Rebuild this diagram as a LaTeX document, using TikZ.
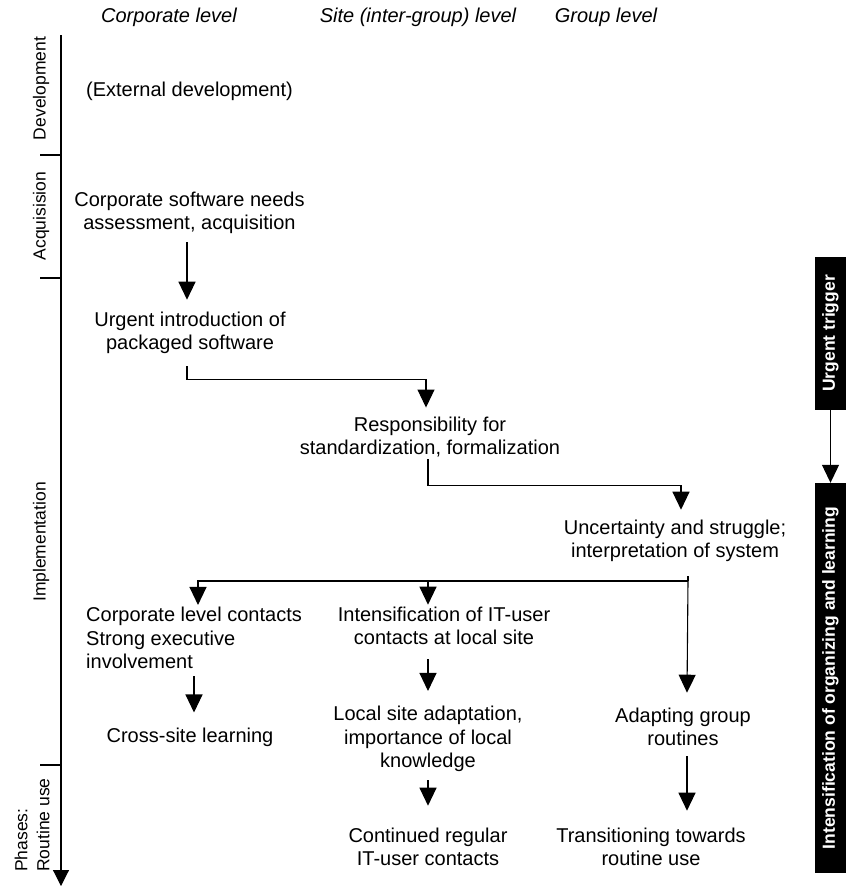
\documentclass[tikz,border=0pt]{standalone}
\usepackage{fontspec}
\setmainfont{Liberation Sans}
\usetikzlibrary{arrows.meta,calc}
\begin{document}
\begin{tikzpicture}[x=1pt,y=-1pt,
  txt/.style={inner sep=0pt,align=center,font=\fontsize{20}{23.5}\selectfont},
  hdr/.style={inner sep=0pt,font=\fontsize{20}{23.5}\selectfont\itshape},
  phase/.style={inner sep=0pt,rotate=90,align=left,font=\fontsize{17.5}{22}\selectfont},
  blackbox/.style={inner sep=0pt,rotate=90,fill=black,text=white,minimum height=31pt,font=\fontsize{17.5}{21}\selectfont\bfseries},
  ln/.style={line width=1.1pt},
  arr/.style={line width=1.1pt,-{Triangle[length=18pt,width=17pt]}}]
\useasboundingbox (0,0) rectangle (846,886);
% headers
\node[hdr] (h1) at (169,17) {Corporate level};
\node[hdr] (h2) at (418,17) {Site (inter-group) level};
\node[hdr] (h3) at (606,17) {Group level};
% phase axis
\coordinate (axtop) at (61,35);
\coordinate (axbot) at (61,886);
\draw[arr,-{Triangle[length=16pt,width=16pt]}] (axtop) -- (axbot);
\coordinate (t1) at (61,155);
\coordinate (t2) at (61,278);
\coordinate (t3) at (61,765);
\draw[ln] (t1) -- ++(-21,0);
\draw[ln] (t2) -- ++(-21,0);
\draw[ln] (t3) -- ++(-21,0);
\node[phase] (pdev) at (41,88.5) {Development};
\node[phase] (pacq) at (41,216) {Acquisision};
\node[phase] (pimp) at (41,542) {Implementation};
\node[phase,anchor=west] (prou) at (32,872) {Phases:\\Routine use};
% nodes
\node[txt] (ext) at (189.5,91) {(External development)};
\node[txt] (csn) at (189.5,213) {Corporate software needs\\assessment, acquisition};
\node[txt] (urg) at (190,333) {Urgent introduction of\\packaged software};
\node[txt] (resp) at (430,437) {Responsibility for\\standardization, formalization};
\node[txt] (unc) at (675,541) {Uncertainty and struggle;\\interpretation of system};
\node[txt,align=left,anchor=west] (corp) at (86,638) {Corporate level contacts\\Strong executive\\involvement};
\node[txt] (cross) at (190,737) {Cross-site learning};
\node[txt] (intens) at (444,626) {Intensification of IT-user\\contacts at local site};
\node[txt] (local) at (428,739) {Local site adaptation,\\importance of local\\knowledge};
\node[txt] (cont) at (428,847) {Continued regular\\IT-user contacts};
\node[txt] (adapt) at (683,727) {Adapting group\\routines};
\node[txt] (trans) at (651,847) {Transitioning towards\\routine use};
% connectors
\draw[arr] ($(csn.south)+(-2.5,8)$) -- ($(urg.north)+(-3,-12)$);
\draw[arr] ($(urg.south)+(-3,12)$) |- ++(0,13) -| ($(resp.north)+(-4,-9)$);
\draw[arr] ($(resp.south)+(-2,2)$) |- ++(0,26) -| ($(unc.north)+(6,-10)$);
\coordinate (split) at (688,581);
\draw[ln] ($(unc.south)+(13,14)$) -- (split);
\draw[arr] (split) -| ($(corp.north west)+(112,-2)$);
\draw[arr] (split) -| ($(intens.north)+(-16,-2)$);
\draw[arr] (split) -- ($(adapt.north)+(4,-15)$);
\draw[arr] ($(corp.south west)+(108,7)$) -- ($(cross.north)+(4,-15)$);
\draw[arr] ($(intens.south)+(-16,14)$) -- ($(local.north)+(0,-15)$);
\draw[arr] ($(local.south)+(0,8)$) -- ($(cont.north)+(0,-22)$);
\draw[arr] ($(adapt.south)+(4,10)$) -- ($(trans.north)+(36,-17)$);
% right boxes
\node[blackbox,minimum width=153pt] (trig) at (830.5,333.5) {Urgent trigger};
\node[blackbox,minimum width=390pt] (intensbox) at (830.5,678) {Intensification of organizing and learning};
\draw[arr] (trig.west) -- (intensbox.east);
\end{tikzpicture}
\end{document}
